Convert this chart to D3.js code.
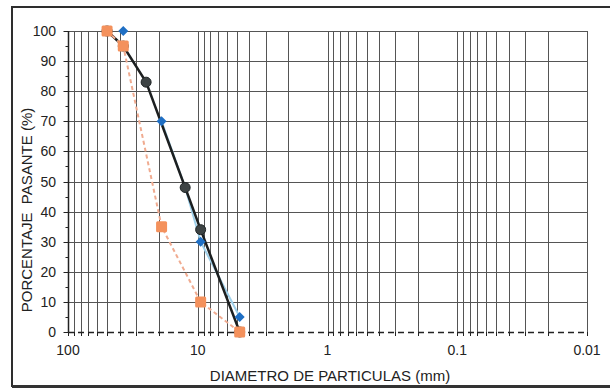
<!DOCTYPE html>
<html>
<head>
<meta charset="utf-8">
<script src="https://cdn.jsdelivr.net/npm/d3@7"></script>
<style>
  html, body { margin: 0; padding: 0; background: #fff; }
  svg { display: block; }
  text { font-family: Arial, "Liberation Sans", sans-serif; fill: #222; }
</style>
</head>
<body>
<svg id="chart" width="610" height="390"></svg>
<script>
// Sieve openings (mm) and percent passing for each sample
const sieveSizes = [50, 37.5, 25, 19, 12.5, 9.5, 4.75];
const passingBlack = [100, 95, 83, null, 48, 34, 0];
const passingBlue = [null, 100, null, 70, 48, 30, 5];
const passingOrange = [100, 95, null, 35, null, 10, 0];

// Axis ticks
const xTickValues = [100, 10, 1, 0.1, 0.01];
const xTickLabels = ["100", "10", "1", "0.1", "0.01"];
const yTickValues = [0, 10, 20, 30, 40, 50, 60, 70, 80, 90, 100];

const xTitle = "DIAMETRO DE PARTICULAS (mm)";
const yTitle = "PORCENTAJE\u00a0\u00a0PASANTE (%)";

const svg = d3.select("#chart");
const plotL = 68, plotR = 587, plotT = 31, plotB = 332;

const x = d3.scaleLog().domain([100, 0.01]).range([plotL, plotR]);
const y = d3.scaleLinear().domain([0, 100]).range([plotB, plotT]);

// Outer frame
svg.append("rect")
  .attr("x", 12).attr("y", 7).attr("width", 610).attr("height", 379)
  .attr("fill", "none").attr("stroke", "#2e2e2e").attr("stroke-width", 2);
svg.append("line")
  .attr("x1", 12).attr("x2", 610).attr("y1", 386.5).attr("y2", 386.5)
  .attr("stroke", "#333").attr("stroke-width", 3);

// Log grid: every integer multiple within each decade
const gridX = [];
for (let e = -2; e <= 1; e++) {
  for (let k = 1; k <= 9; k++) gridX.push(k * Math.pow(10, e));
}
gridX.push(100);

const grid = svg.append("g");
grid.selectAll("line.vx").data(gridX).join("line")
  .attr("class", "vx")
  .attr("x1", d => Math.round(x(d)) + 0.5).attr("x2", d => Math.round(x(d)) + 0.5)
  .attr("y1", plotT).attr("y2", plotB)
  .attr("stroke", "#555").attr("stroke-width", 1);
grid.selectAll("line.hy").data(yTickValues.filter(d => d > 0)).join("line")
  .attr("class", "hy")
  .attr("x1", plotL).attr("x2", plotR)
  .attr("y1", d => Math.round(y(d)) + 0.5).attr("y2", d => Math.round(y(d)) + 0.5)
  .attr("stroke", "#555").attr("stroke-width", 1);

// Y axis
const yAxis = svg.append("g").attr("transform", `translate(${plotL + 0.5},0)`);
yAxis.append("line").attr("y1", plotT).attr("y2", plotB)
  .attr("stroke", "#222").attr("stroke-width", 1.5);
yAxis.selectAll("line.minor").data(d3.range(5, 100, 10)).join("line")
  .attr("class", "minor")
  .attr("x1", -3).attr("x2", 0)
  .attr("y1", d => Math.round(y(d)) + 0.5).attr("y2", d => Math.round(y(d)) + 0.5)
  .attr("stroke", "#222");
yAxis.selectAll("line.major").data(yTickValues).join("line")
  .attr("class", "major")
  .attr("x1", -5).attr("x2", 0)
  .attr("y1", d => Math.round(y(d)) + 0.5).attr("y2", d => Math.round(y(d)) + 0.5)
  .attr("stroke", "#222");
svg.append("g").selectAll("text").data(yTickValues).join("text")
  .attr("x", 56).attr("y", d => y(d)).attr("dy", "0.36em")
  .attr("text-anchor", "end").attr("font-size", 14)
  .text(d => d);

// X axis: dashed baseline with ticks at each grid line
const xAxis = svg.append("g");
xAxis.append("line")
  .attr("x1", plotL).attr("x2", plotR).attr("y1", plotB + 0.5).attr("y2", plotB + 0.5)
  .attr("stroke", "#222").attr("stroke-width", 1.5).attr("stroke-dasharray", "6,4");
xAxis.selectAll("line.tick").data(gridX).join("line")
  .attr("class", "tick")
  .attr("x1", d => Math.round(x(d)) + 0.5).attr("x2", d => Math.round(x(d)) + 0.5)
  .attr("y1", plotB).attr("y2", plotB + 4)
  .attr("stroke", "#222");
xAxis.selectAll("text").data(xTickValues).join("text")
  .attr("x", d => x(d)).attr("y", 355)
  .attr("text-anchor", "middle").attr("font-size", 14)
  .text((d, i) => xTickLabels[i]);

// Axis titles
svg.append("text")
  .attr("x", 330).attr("y", 381)
  .attr("text-anchor", "middle").attr("font-size", 15)
  .text(xTitle);
svg.append("text")
  .attr("transform", "translate(32,210) rotate(-90)")
  .attr("text-anchor", "middle").attr("font-size", 15)
  .text(yTitle);

// Series
const pts = vals => sieveSizes.map((s, i) => ({ s, v: vals[i] }));
const black = pts(passingBlack).filter(d => d.v != null);
const blue = pts(passingBlue);
const orange = pts(passingOrange).filter(d => d.v != null);

const line = d3.line().x(d => x(d.s)).y(d => y(d.v));

// blue sample: no reading at 25 mm, so its line is broken there
svg.append("path")
  .attr("d", d3.line().defined(d => d.v != null).x(d => x(d.s)).y(d => y(d.v))(blue.filter((d, i) => i > 0)))
  .attr("fill", "none").attr("stroke", "#9fd0ea").attr("stroke-width", 2);
svg.append("path").attr("d", line(black))
  .attr("fill", "none").attr("stroke", "#1c1f20").attr("stroke-width", 2.5);
svg.append("path").attr("d", line(orange))
  .attr("fill", "none").attr("stroke", "#f0ab90").attr("stroke-width", 2)
  .attr("stroke-dasharray", "4,3");

svg.append("g").selectAll("path").data(blue.filter(d => d.v != null)).join("path")
  .attr("d", d3.symbol(d3.symbolDiamond2, 64))
  .attr("transform", d => `translate(${x(d.s)},${y(d.v)})`)
  .attr("fill", "#1f6fc4");

svg.append("g").selectAll("circle").data(black).join("circle")
  .attr("cx", d => x(d.s)).attr("cy", d => y(d.v)).attr("r", 5)
  .attr("fill", "#3d4344").attr("stroke", "#1f2425").attr("stroke-width", 1);

svg.append("g").selectAll("rect").data(orange).join("rect")
  .attr("x", d => x(d.s) - 5.5).attr("y", d => y(d.v) - 5.5)
  .attr("width", 11).attr("height", 11).attr("rx", 1.5)
  .attr("fill", "#f4915c");
</script>
</body>
</html>
